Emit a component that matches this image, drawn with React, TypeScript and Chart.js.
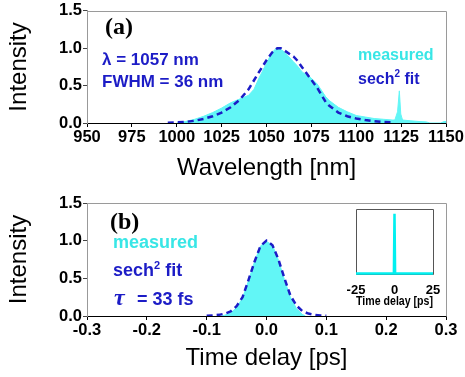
import React, { useEffect, useRef } from "react";
import { Chart, registerables } from "chart.js";
Chart.register(...registerables);

const CYAN = "#62f6f6";
const CYAN_TEXT = "#38e6e6";
const BLUE = "#1c1cc6";
const SANS = "'Liberation Sans', Arial, sans-serif";
const SERIF = "'Liberation Serif', 'Times New Roman', serif";

// ---------- Panel (a): spectrum ----------
const wlTicks = [950, 975, 1000, 1025, 1050, 1075, 1100, 1125, 1150];
const intensityTicks = [0, 0.5, 1.0, 1.5];
const specWavelength = [1000, 1005, 1010, 1015, 1020, 1025, 1030, 1035, 1040, 1043, 1046, 1050, 1053, 1055, 1057, 1060, 1065, 1067, 1070, 1074, 1078, 1080, 1083, 1085, 1090, 1095, 1100, 1105, 1110, 1115, 1120, 1121.5, 1123, 1124, 1124.8, 1125.8, 1130, 1135, 1139, 1141, 1147, 1149, 1150];
const specMeasured = [0, 0.02, 0.05, 0.09, 0.14, 0.2, 0.27, 0.32, 0.37, 0.45, 0.61, 0.8, 0.94, 0.99, 1.0, 0.95, 0.82, 0.77, 0.68, 0.62, 0.53, 0.46, 0.35, 0.3, 0.21, 0.15, 0.1, 0.08, 0.06, 0.05, 0.04, 0.04, 0.15, 0.43, 0.12, 0.04, 0.03, 0.02, 0.015, 0, 0, 0.02, 0.02];
const fitWavelength = [995, 1000, 1005, 1010, 1015, 1020, 1025, 1030, 1035, 1040, 1045, 1050, 1053, 1056, 1058, 1060, 1065, 1067, 1070, 1074, 1078, 1080, 1083, 1085, 1090, 1095, 1100, 1105, 1110, 1115, 1120];
const fitSpectrum = [0.004, 0.008, 0.015, 0.03, 0.055, 0.09, 0.14, 0.21, 0.31, 0.45, 0.65, 0.84, 0.94, 1.0, 1.0, 0.97, 0.89, 0.84, 0.74, 0.61, 0.48, 0.4, 0.28, 0.23, 0.14, 0.09, 0.06, 0.04, 0.025, 0.015, 0.01];

// ---------- Panel (b): autocorrelation ----------
const delayTicks = [-0.3, -0.2, -0.1, 0.0, 0.1, 0.2, 0.3];
const acDelay = [-0.075, -0.07, -0.06, -0.05, -0.04, -0.03, -0.02, -0.01, 0, 0.01, 0.02, 0.03, 0.04, 0.05, 0.06, 0.065];
const acMeasured = [0, 0.01, 0.04, 0.11, 0.24, 0.47, 0.72, 0.93, 0.99, 0.94, 0.74, 0.48, 0.25, 0.1, 0.02, 0];
const acFitDelay = [-0.1, -0.09, -0.08, -0.07, -0.06, -0.05, -0.04, -0.03, -0.02, -0.01, 0, 0.01, 0.02, 0.03, 0.04, 0.05, 0.06, 0.07, 0.08, 0.09, 0.1];
const acFit = [0.004, 0.008, 0.015, 0.03, 0.06, 0.13, 0.25, 0.48, 0.72, 0.93, 1.0, 0.94, 0.75, 0.5, 0.27, 0.14, 0.065, 0.032, 0.016, 0.008, 0.004];

// ---------- Inset: long-range autocorrelation ----------
const insetTicks = [-25, 0, 25];
const insetDelay = [-25, -0.4, 0, 0.4, 25];
const insetSignal = [0.01, 0.01, 1.0, 0.01, 0.01];

const pts = (xs: number[], ys: number[]) => xs.map((x, i) => ({ x, y: ys[i] }));

const framePlugin = (color: string, full: boolean) => ({
  id: "frame",
  beforeDatasetsDraw(chart: any) {
    const { ctx, chartArea: a } = chart;
    ctx.save();
    ctx.strokeStyle = color;
    ctx.lineWidth = 1;
    ctx.beginPath();
    const l = Math.round(a.left) + 0.5, r = Math.round(a.right) + 0.5;
    const t = Math.round(a.top) + 0.5, b = Math.round(a.bottom) + 0.5;
    if (full) {
      ctx.rect(l, t, r - l, b - t);
    } else {
      ctx.moveTo(l, t);
      ctx.lineTo(r, t);
      ctx.lineTo(r, b);
    }
    ctx.stroke();
    ctx.restore();
  },
});

type Item = { parts: { text: string; font: string; sup?: boolean; dx?: number }[]; x: number; y: number; color: string };

const textPlugin = (items: Item[]) => ({
  id: "labels",
  afterDraw(chart: any) {
    const ctx = chart.ctx;
    ctx.save();
    ctx.textBaseline = "alphabetic";
    ctx.textAlign = "left";
    for (const it of items) {
      let x = it.x;
      ctx.fillStyle = it.color;
      for (const p of it.parts) {
        ctx.font = p.font;
        if (p.dx !== undefined) x = it.x + p.dx;
        const y = p.sup ? it.y - 7 : it.y;
        ctx.fillText(p.text, x, y);
        x += ctx.measureText(p.text).width;
      }
    }
    ctx.restore();
  },
});

function axisTicks(values: number[]) {
  return (axis: any) => {
    axis.ticks = values.map((v) => ({ value: v }));
  };
}

function mainOptions(xMin: number, xMax: number, xTicks: number[], xTitle: string, xHeight: number, titlePad: number, topPad: number, labelFmt: (v: number) => string) {
  return {
    responsive: false,
    animation: false,
    events: [],
    layout: { padding: { left: 0, right: 19, top: topPad, bottom: 0 } },
    plugins: { legend: { display: false }, tooltip: { enabled: false } },
    elements: { point: { radius: 0 }, line: { tension: 0 } },
    scales: {
      x: {
        type: "linear",
        min: xMin,
        max: xMax,
        afterBuildTicks: axisTicks(xTicks),
        afterFit: (s: any) => { s.height = xHeight; },
        ticks: { font: { family: SANS, size: 16.5, weight: "bold" }, color: "#000", padding: 1, maxRotation: 0, callback: (v: any) => labelFmt(Number(v)) },
        grid: { display: true, drawOnChartArea: false, drawTicks: true, tickLength: 4, color: "#000" },
        border: { display: true, color: "#000", width: 1 },
        title: { display: true, text: xTitle, font: { family: SANS, size: 24, weight: "normal" }, color: "#000", padding: { top: 0, bottom: titlePad } },
      },
      y: {
        type: "linear",
        min: 0,
        max: 1.5,
        afterBuildTicks: axisTicks(intensityTicks),
        afterFit: (s: any) => { s.width = 87; },
        ticks: { font: { family: SANS, size: 16.5, weight: "bold" }, color: "#000", padding: 1, callback: (v: any) => Number(v).toFixed(1) },
        grid: { display: true, drawOnChartArea: false, drawTicks: true, tickLength: 4, color: "#444" },
        border: { display: true, color: "#999", width: 1 },
        title: { display: true, text: "Intensity", font: { family: SANS, size: 24, weight: "normal" }, color: "#000", padding: { top: 4.6, bottom: 0 } },
      },
    },
  };
}

export default function App() {
  const topRef = useRef<HTMLCanvasElement>(null);
  const botRef = useRef<HTMLCanvasElement>(null);
  const insRef = useRef<HTMLCanvasElement>(null);

  useEffect(() => {
    const top = new Chart(topRef.current as HTMLCanvasElement, {
      type: "line",
      data: {
        datasets: [
          { label: "measured", data: pts(specWavelength, specMeasured), borderColor: CYAN, backgroundColor: CYAN, borderWidth: 1, fill: "origin", order: 2 },
          { label: "sech2 fit", data: pts(fitWavelength, fitSpectrum), borderColor: BLUE, borderWidth: 2.5, borderDash: [6, 4], fill: false, order: 1 },
        ],
      },
      options: mainOptions(950, 1150, wlTicks, "Wavelength [nm]", 67, 7.2, 10, (v) => String(Math.round(v))) as any,
      plugins: [
        framePlugin("#9a9a9a", false),
        textPlugin([
          { x: 105, y: 33.5, color: "#000", parts: [{ text: "(a)", font: `bold 24px ${SERIF}` }] },
          { x: 102, y: 65, color: BLUE, parts: [{ text: "λ = 1057 nm", font: `bold 17px ${SANS}` }] },
          { x: 102, y: 87, color: BLUE, parts: [{ text: "FWHM = 36 nm", font: `bold 17px ${SANS}` }] },
          { x: 358, y: 60, color: CYAN_TEXT, parts: [{ text: "measured", font: `bold 16px ${SANS}` }] },
          { x: 358, y: 84, color: BLUE, parts: [{ text: "sech", font: `bold 16px ${SANS}` }, { text: "2", font: `bold 10px ${SANS}`, sup: true }, { text: " fit", font: `bold 16px ${SANS}` }] },
        ]),
      ],
    });

    const bot = new Chart(botRef.current as HTMLCanvasElement, {
      type: "line",
      data: {
        datasets: [
          { label: "measured", data: pts(acDelay, acMeasured), borderColor: CYAN, backgroundColor: CYAN, borderWidth: 1, fill: "origin", order: 2 },
          { label: "sech2 fit", data: pts(acFitDelay, acFit), borderColor: BLUE, borderWidth: 2.5, borderDash: [6, 4], fill: false, order: 1 },
        ],
      },
      options: mainOptions(-0.3, 0.3, delayTicks, "Time delay [ps]", 61, 4.2, 13, (v) => v.toFixed(1)) as any,
      plugins: [
        framePlugin("#9a9a9a", false),
        textPlugin([
          { x: 110, y: 38.5, color: "#000", parts: [{ text: "(b)", font: `bold 24px ${SERIF}` }] },
          { x: 113, y: 58.3, color: CYAN_TEXT, parts: [{ text: "measured", font: `bold 18px ${SANS}` }] },
          { x: 113, y: 86, color: BLUE, parts: [{ text: "sech", font: `bold 18px ${SANS}` }, { text: "2", font: `bold 11px ${SANS}`, sup: true }, { text: " fit", font: `bold 18px ${SANS}` }] },
          { x: 114, y: 115, color: BLUE, parts: [{ text: "τ", font: `italic bold 24px ${SERIF}` }, { text: "= 33 fs", font: `bold 18px ${SANS}`, dx: 23 }] },
        ]),
      ],
    });

    const ins = new Chart(insRef.current as HTMLCanvasElement, {
      type: "line",
      data: {
        datasets: [
          { label: "inset", data: pts(insetDelay, insetSignal), borderColor: "#00f0f0", borderWidth: 2.5, fill: false, clip: false as any },
        ],
      },
      options: {
        responsive: false,
        animation: false,
        events: [],
        layout: { padding: { left: 26, right: 32, top: 9, bottom: 0 } },
        plugins: { legend: { display: false }, tooltip: { enabled: false } },
        elements: { point: { radius: 0 }, line: { tension: 0 } },
        scales: {
          x: {
            type: "linear",
            min: -25,
            max: 25,
            afterBuildTicks: axisTicks(insetTicks),
            afterFit: (s: any) => { s.height = 41; },
            ticks: { font: { family: SANS, size: 13, weight: "bold" }, color: "#000", padding: 1, maxRotation: 0, callback: (v: any) => String(v) },
            grid: { display: false },
            border: { display: false },
            title: { display: true, text: "Time delay [ps]", font: { family: SANS, size: 13, weight: "bold" }, color: "#000", padding: { top: 0, bottom: 6 } },
          },
          y: { type: "linear", min: 0, max: 1.08, display: false },
        },
      } as any,
      plugins: [framePlugin("#555", true)],
    });

    return () => {
      top.destroy();
      bot.destroy();
      ins.destroy();
    };
  }, []);

  return (
    <div style={{ position: "absolute", left: 0, top: 0, width: 465, height: 377, background: "#fff" }}>
      <canvas ref={topRef} width={465} height={190} style={{ position: "absolute", left: 0, top: 0, width: 465, height: 190 }} />
      <canvas ref={botRef} width={465} height={187} style={{ position: "absolute", left: 0, top: 190, width: 465, height: 187 }} />
      <canvas ref={insRef} width={135} height={115} style={{ position: "absolute", left: 330, top: 200, width: 135, height: 115 }} />
    </div>
  );
}
